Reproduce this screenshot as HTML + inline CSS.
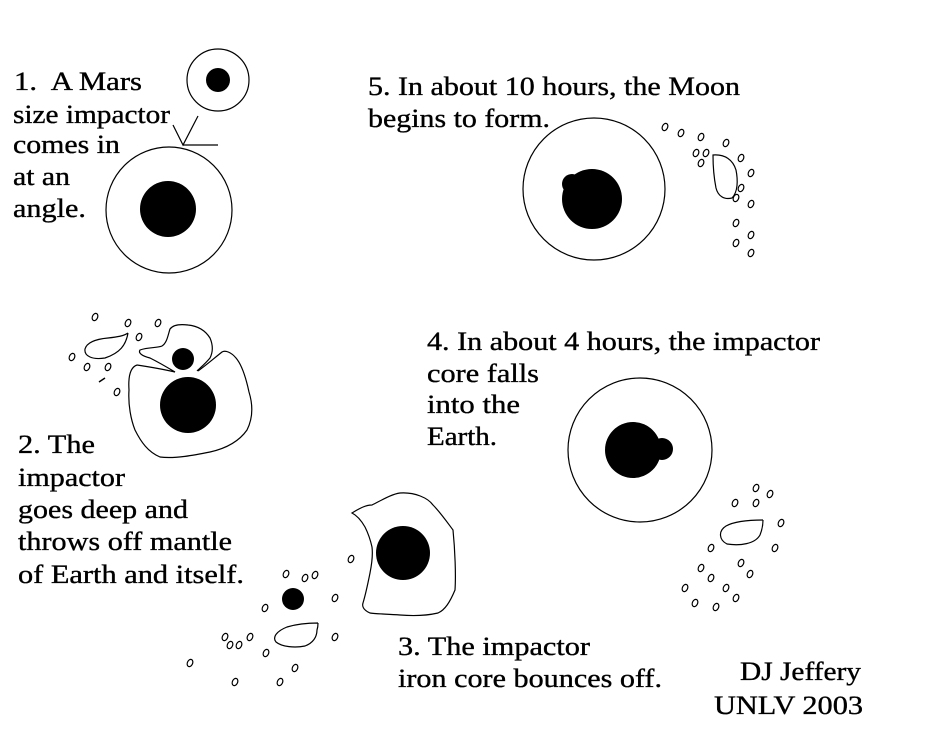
<!DOCTYPE html>
<html><head><style>html,body{margin:0;padding:0;background:#fff}svg{display:block}.t{font-family:"Liberation Serif","Times New Roman",serif;font-size:26px}</style></head>
<body>
<svg width="930" height="729" viewBox="0 0 930 729" xmlns="http://www.w3.org/2000/svg">
<defs>
<ellipse id="d" cx="0" cy="0" rx="2.6" ry="3.8" transform="rotate(25)" fill="none" stroke="#000" stroke-width="1.2"/>
</defs>
<g class="t" fill="#000" stroke="#000" stroke-width="0.35">
<text x="14" y="90" textLength="128" lengthAdjust="spacingAndGlyphs" xml:space="preserve">1.  A Mars</text>
<text x="13" y="123" textLength="157" lengthAdjust="spacingAndGlyphs">size impactor</text>
<text x="13" y="153" textLength="107" lengthAdjust="spacingAndGlyphs">comes in</text>
<text x="13" y="185" textLength="57" lengthAdjust="spacingAndGlyphs">at an</text>
<text x="13" y="217" textLength="73" lengthAdjust="spacingAndGlyphs">angle.</text>
<text x="368" y="95" textLength="372" lengthAdjust="spacingAndGlyphs">5. In about 10 hours, the Moon</text>
<text x="368" y="127" textLength="182" lengthAdjust="spacingAndGlyphs">begins to form.</text>
<text x="427" y="350" textLength="393" lengthAdjust="spacingAndGlyphs">4. In about 4 hours, the impactor</text>
<text x="427" y="382" textLength="112" lengthAdjust="spacingAndGlyphs">core falls</text>
<text x="427" y="413" textLength="93" lengthAdjust="spacingAndGlyphs">into the</text>
<text x="427" y="445" textLength="70" lengthAdjust="spacingAndGlyphs">Earth.</text>
<text x="18" y="453" textLength="77" lengthAdjust="spacingAndGlyphs">2. The</text>
<text x="18" y="486" textLength="107" lengthAdjust="spacingAndGlyphs">impactor</text>
<text x="18" y="518" textLength="170" lengthAdjust="spacingAndGlyphs">goes deep and</text>
<text x="18" y="550" textLength="214" lengthAdjust="spacingAndGlyphs">throws off mantle</text>
<text x="18" y="583" textLength="226" lengthAdjust="spacingAndGlyphs">of Earth and itself.</text>
<text x="398" y="655" textLength="192" lengthAdjust="spacingAndGlyphs">3. The impactor</text>
<text x="398" y="687" textLength="264" lengthAdjust="spacingAndGlyphs">iron core bounces off.</text>
<text x="740" y="680" textLength="121" lengthAdjust="spacingAndGlyphs">DJ Jeffery</text>
<text x="714" y="714" textLength="149" lengthAdjust="spacingAndGlyphs">UNLV 2003</text>
</g>
<g fill="none" stroke="#000" stroke-width="1.2">
<circle cx="218" cy="80" r="31"/>
<circle cx="169" cy="210" r="63"/>
<polyline points="173,125 183,145 198,116"/>
<line x1="183" y1="145" x2="218" y2="145"/>
<circle cx="594" cy="189" r="71"/>
<path d="M713,155 C725,154 733,160 736,170 C738,180 738,192 732,198 C724,200 718,196 716,188 C714,178 713,165 713,155 Z"/>
<circle cx="640" cy="450" r="72"/>
<path d="M763,520 C750,520 735,521 726,526 C718,531 719,540 727,544 C740,546 755,544 760,535 C762,530 763,525 763,520"/>
<path d="M137,365 C131,367 128,375 129,390 C128,405 131,420 135,430 C141,442 148,452 160,457 C175,459 195,455 210,452 C228,448 240,440 247,430 C253,418 253,405 249,392 C246,378 242,365 236,358 C231,352 225,350 222,352 C212,360 205,366 198,371"/>
<path d="M137,365 C150,367 162,369 175,372"/>
<path d="M175,372 C165,366 158,362 150,358 C142,356 138,353 140,350 C148,347 158,348 162,346 C167,343 168,335 170,329 C173,325 180,324 188,325 C198,326 205,330 210,338 C213,345 213,352 210,358 C205,364 200,368 197,371"/>
<path d="M128,333 C126,345 120,353 105,358 C92,360 84,356 85,349 C87,342 97,339 108,338 C117,337 124,336 128,333"/>
<path d="M352,513 C360,508 366,505 372,505 C382,500 392,494 400,493 C415,492 428,498 433,505 C440,512 447,522 453,530 C455,550 456,575 455,590 C450,602 445,610 438,613 C425,616 412,616 400,615 C388,614 376,614 370,613 C363,610 362,606 363,603 C366,593 368,583 370,573 C372,563 373,555 372,547 C370,538 367,531 365,527 C361,520 356,515 352,513 Z"/>
<path d="M318,623 C310,623 297,624 287,627 C277,631 272,637 276,642 C282,647 295,648 305,646 C313,643 317,637 317,630 C318,627 318,624 318,623"/>
</g>
<g fill="#000">
<circle cx="218" cy="80" r="12"/>
<circle cx="168" cy="209" r="28"/>
<circle cx="592" cy="199" r="30"/>
<circle cx="572" cy="184" r="10"/>
<circle cx="633" cy="450" r="28"/>
<circle cx="662" cy="449" r="11"/>
<circle cx="188" cy="405" r="28"/>
<circle cx="183" cy="359" r="11"/>
<circle cx="403" cy="553" r="27"/>
<circle cx="293" cy="599" r="11"/>
</g>
<g>
<use href="#d" x="665" y="127"/><use href="#d" x="681" y="133"/><use href="#d" x="701" y="137"/><use href="#d" x="726" y="143"/>
<use href="#d" x="696" y="153"/><use href="#d" x="706" y="153"/><use href="#d" x="701" y="163"/><use href="#d" x="741" y="158"/>
<use href="#d" x="751" y="173"/><use href="#d" x="741" y="188"/><use href="#d" x="736" y="198"/><use href="#d" x="751" y="204"/>
<use href="#d" x="736" y="223"/><use href="#d" x="751" y="235"/><use href="#d" x="736" y="243"/><use href="#d" x="751" y="253"/>
<use href="#d" x="756" y="488"/><use href="#d" x="770" y="494"/><use href="#d" x="735" y="503"/><use href="#d" x="756" y="503"/>
<use href="#d" x="781" y="523"/><use href="#d" x="711" y="548"/><use href="#d" x="775" y="548"/><use href="#d" x="741" y="563"/>
<use href="#d" x="750" y="574"/><use href="#d" x="701" y="568"/><use href="#d" x="711" y="578"/><use href="#d" x="685" y="588"/>
<use href="#d" x="726" y="588"/><use href="#d" x="736" y="598"/><use href="#d" x="695" y="603"/><use href="#d" x="716" y="607"/>
<use href="#d" x="351" y="559"/><use href="#d" x="286" y="574"/><use href="#d" x="305" y="578"/><use href="#d" x="315" y="575"/>
<use href="#d" x="335" y="598"/><use href="#d" x="265" y="608"/><use href="#d" x="335" y="637"/><use href="#d" x="225" y="637"/>
<use href="#d" x="250" y="637"/><use href="#d" x="230" y="645"/><use href="#d" x="239" y="645"/><use href="#d" x="266" y="653"/>
<use href="#d" x="190" y="663"/><use href="#d" x="295" y="668"/><use href="#d" x="235" y="682"/><use href="#d" x="280" y="682"/>
<use href="#d" x="95" y="317"/><use href="#d" x="128" y="323"/><use href="#d" x="158" y="323"/><use href="#d" x="139" y="337"/>
<use href="#d" x="72" y="357"/><use href="#d" x="87" y="367"/><use href="#d" x="108" y="367"/><use href="#d" x="117" y="392"/>
</g>
<line x1="99" y1="382" x2="105" y2="378" stroke="#000" stroke-width="1.5"/>
</svg>
</body></html>
